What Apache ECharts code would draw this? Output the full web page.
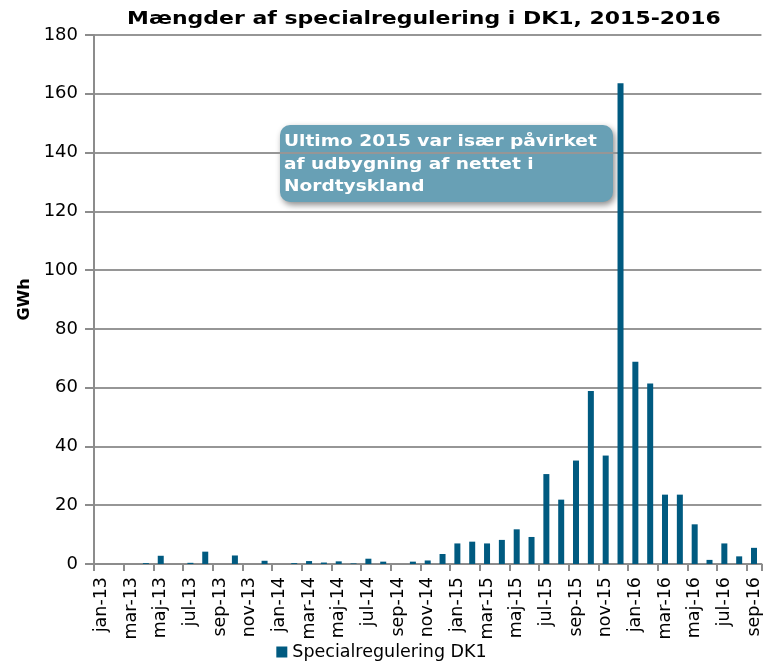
<!DOCTYPE html>
<html>
<head>
<meta charset="utf-8">
<script src="https://cdn.jsdelivr.net/npm/echarts@6/dist/echarts.min.js"></script>
<style>
  html, body { margin: 0; padding: 0; background: #fff; }
  #chart { width: 763px; height: 667px; }
</style>
</head>
<body>
<div id="chart"></div>
<script>
// Monthly categories, jan-13 .. sep-16
const months = [
  'jan-13','feb-13','mar-13','apr-13','maj-13','jun-13','jul-13','aug-13','sep-13','okt-13','nov-13','dec-13',
  'jan-14','feb-14','mar-14','apr-14','maj-14','jun-14','jul-14','aug-14','sep-14','okt-14','nov-14','dec-14',
  'jan-15','feb-15','mar-15','apr-15','maj-15','jun-15','jul-15','aug-15','sep-15','okt-15','nov-15','dec-15',
  'jan-16','feb-16','mar-16','apr-16','maj-16','jun-16','jul-16','aug-16','sep-16'
];

// Special regulation volumes in DK1 (GWh)
const specialregulering = [
  0, 0, 0, 0.3, 2.8, 0, 0.4, 4.2, 0, 2.9, 0, 1.1,
  0, 0.3, 1.0, 0.5, 0.9, 0.2, 1.8, 0.8, 0, 0.8, 1.2, 3.4,
  7.0, 7.6, 7.0, 8.2, 11.8, 9.2, 30.6, 21.9, 35.2, 58.9, 36.9, 163.6,
  68.8, 61.4, 23.6, 23.6, 13.5, 1.4, 7.0, 2.6, 5.5
];

const yTicks = [0, 20, 40, 60, 80, 100, 120, 140, 160, 180];

const titleText = 'Mængder af specialregulering i DK1, 2015-2016';
const seriesName = 'Specialregulering DK1';
const yAxisName = 'GWh';
const noteText = 'Ultimo 2015 var især påvirket\naf udbygning af nettet i\nNordtyskland';

const chart = echarts.init(document.getElementById('chart'), null, { renderer: 'canvas' });

chart.setOption({
  animation: false,
  backgroundColor: '#ffffff',
  legend: {
    data: [seriesName],
    bottom: 1,
    left: 'center',
    itemWidth: 11,
    itemHeight: 11,
    itemGap: 3,
    icon: 'rect',
    textStyle: { fontFamily: 'DejaVu Sans', fontSize: 17.5, color: '#000' }
  },
  grid: { left: 94, right: 1, top: 35, bottom: 103, containLabel: false },
  xAxis: {
    type: 'category',
    data: months,
    axisLine: { lineStyle: { color: '#8c8c8c', width: 2 } },
    axisTick: { show: true, interval: 1, length: 7, lineStyle: { color: '#8c8c8c', width: 2 } },
    axisLabel: {
      interval: 1,
      rotate: 90,
      margin: 13,
      fontFamily: 'DejaVu Sans',
      fontSize: 17.5,
      color: '#000'
    }
  },
  yAxis: {
    type: 'value',
    min: yTicks[0],
    max: yTicks[yTicks.length - 1],
    interval: 20,
    name: yAxisName,
    nameLocation: 'middle',
    nameGap: 61,
    nameTextStyle: { fontFamily: 'DejaVu Sans', fontWeight: 'bold', fontSize: 16, color: '#000' },
    axisLine: { show: true, lineStyle: { color: '#8c8c8c', width: 2 } },
    axisTick: { show: true, length: 9, lineStyle: { color: '#8c8c8c', width: 2 } },
    splitLine: { show: true, lineStyle: { color: '#969696', width: 2 } },
    axisLabel: { fontFamily: 'DejaVu Sans', fontSize: 18, color: '#000', margin: 16 }
  },
  series: [{
    name: seriesName,
    type: 'bar',
    data: specialregulering,
    barWidth: 6,
    itemStyle: { color: '#005a80' }
  }],
  graphic: [{
    // chart title, drawn a little wide
    type: 'text',
    x: 424,
    y: 19,
    scaleX: 1.22,
    style: {
      text: titleText,
      align: 'center',
      verticalAlign: 'middle',
      fill: '#000',
      fontFamily: 'DejaVu Sans',
      fontWeight: 'bold',
      fontSize: 18
    }
  }, {
    // callout box
    type: 'group',
    left: 280,
    top: 125,
    children: [{
      type: 'rect',
      shape: { x: 0, y: 0, width: 333, height: 77, r: 10 },
      style: {
        fill: '#68a0b5',
        shadowBlur: 6,
        shadowOffsetX: 2,
        shadowOffsetY: 3,
        shadowColor: 'rgba(0,0,0,0.45)'
      }
    }, {
      type: 'text',
      x: 4,
      y: 6,
      scaleX: 1.16,
      style: {
        text: noteText,
        fill: '#ffffff',
        fontFamily: 'DejaVu Sans',
        fontWeight: 'bold',
        fontSize: 16,
        lineHeight: 22.5
      }
    }]
  }]
});
</script>
</body>
</html>
